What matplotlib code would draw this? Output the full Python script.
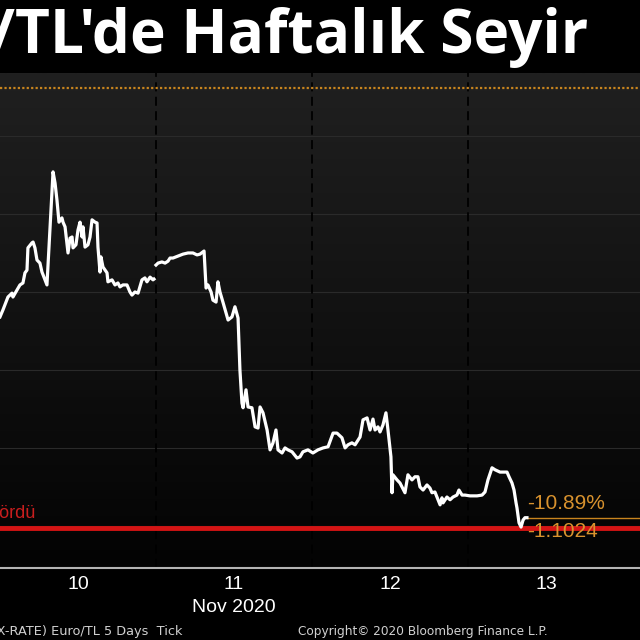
import numpy as np
import matplotlib
matplotlib.use("Agg")
import matplotlib.pyplot as plt

# EUR/TRY tick data, 10-13 Nov 2020 (x = day of month as float)
t_nov10 = [10.000, 10.019, 10.051, 10.077, 10.083, 10.109, 10.128, 10.147, 10.160, 10.173,
           10.179, 10.205, 10.212, 10.224, 10.237, 10.256, 10.269, 10.276, 10.301, 10.340,
           10.353, 10.365, 10.378, 10.397, 10.404, 10.417, 10.436, 10.449, 10.462, 10.468,
           10.487, 10.500, 10.513, 10.526, 10.532, 10.545, 10.564, 10.577, 10.590, 10.609,
           10.622, 10.628, 10.641, 10.647, 10.660, 10.686, 10.692, 10.718, 10.737, 10.756,
           10.769, 10.788, 10.814, 10.833, 10.846, 10.865, 10.885, 10.910, 10.929, 10.942,
           10.962, 10.981, 10.987]
p_nov10 = [9.536, 9.554, 9.587, 9.597, 9.587, 9.605, 9.618, 9.623, 9.649, 9.656,
           9.713, 9.726, 9.728, 9.713, 9.682, 9.674, 9.651, 9.644, 9.618, 9.908,
           9.879, 9.836, 9.779, 9.790, 9.779, 9.767, 9.700, 9.738, 9.741, 9.713,
           9.721, 9.759, 9.779, 9.741, 9.767, 9.715, 9.721, 9.741, 9.785, 9.779,
           9.777, 9.715, 9.651, 9.690, 9.664, 9.649, 9.626, 9.631, 9.618, 9.623,
           9.613, 9.618, 9.618, 9.600, 9.592, 9.600, 9.597, 9.631, 9.636, 9.626,
           9.638, 9.631, 9.633]

t_rest = [11.000, 11.013, 11.038, 11.058, 11.077, 11.090, 11.109, 11.141, 11.173, 11.205,
          11.237, 11.263, 11.282, 11.308, 11.321, 11.333, 11.353, 11.365, 11.385, 11.397,
          11.410, 11.429, 11.462, 11.487, 11.506, 11.526, 11.538, 11.551, 11.558, 11.577,
          11.590, 11.615, 11.635, 11.654, 11.667, 11.686, 11.712, 11.731, 11.750, 11.769,
          11.782, 11.808, 11.827, 11.846, 11.872, 11.904, 11.923, 11.942, 11.974, 12.006,
          12.038, 12.071, 12.103, 12.135, 12.160, 12.192, 12.212, 12.231, 12.256, 12.276,
          12.308, 12.327, 12.353, 12.372, 12.391, 12.404, 12.423, 12.436, 12.455, 12.474,
          12.487, 12.506, 12.513, 12.519, 12.545, 12.564, 12.596, 12.615, 12.641, 12.660,
          12.679, 12.692, 12.712, 12.737, 12.756, 12.769, 12.788, 12.808, 12.821, 12.833,
          12.840, 12.865, 12.885, 12.904, 12.929, 12.942, 12.962, 12.981, 13.013, 13.058,
          13.090, 13.109, 13.128, 13.154, 13.173, 13.205, 13.250, 13.263, 13.282, 13.295,
          13.308, 13.314, 13.327, 13.340, 13.353, 13.365, 13.378]
p_rest = [9.669, 9.674, 9.677, 9.674, 9.679, 9.687, 9.687, 9.692, 9.697, 9.700,
          9.700, 9.695, 9.697, 9.705, 9.610, 9.618, 9.600, 9.579, 9.574, 9.626,
          9.600, 9.574, 9.528, 9.536, 9.562, 9.533, 9.400, 9.315, 9.303, 9.349,
          9.305, 9.303, 9.254, 9.251, 9.305, 9.290, 9.246, 9.195, 9.213, 9.246,
          9.195, 9.187, 9.200, 9.195, 9.190, 9.174, 9.177, 9.190, 9.195, 9.187,
          9.195, 9.200, 9.203, 9.238, 9.238, 9.226, 9.200, 9.208, 9.213, 9.208,
          9.228, 9.272, 9.277, 9.246, 9.274, 9.246, 9.254, 9.241, 9.259, 9.290,
          9.246, 9.177, 9.085, 9.131, 9.118, 9.110, 9.085, 9.131, 9.118, 9.126,
          9.126, 9.100, 9.092, 9.105, 9.097, 9.085, 9.087, 9.067, 9.054, 9.072,
          9.059, 9.074, 9.067, 9.074, 9.079, 9.092, 9.079, 9.079, 9.077, 9.077,
          9.079, 9.087, 9.118, 9.149, 9.144, 9.138, 9.138, 9.126, 9.110, 9.092,
          9.059, 9.046, 9.008, 8.997, 9.015, 9.021, 9.021]

start_price = 10.1230
last_price = 9.0206
low_level = 8.995
chg_pct = "-10.89%"
chg_abs = "-1.1024"
day_ticks = [10, 11, 12, 13]

orange = "#d8922e"

fig = plt.figure(figsize=(6.4, 6.4), dpi=100, facecolor="black")
ax = fig.add_axes([0, 0.1125, 1, 0.7734])
ax.set_facecolor("black")

# gradient background
grad = np.linspace(0, 1, 256).reshape(-1, 1)
ax.imshow(grad, extent=[0, 1, 0, 1], transform=ax.transAxes, aspect="auto",
          cmap=matplotlib.colors.LinearSegmentedColormap.from_list("bg", ["#030303", "#202020"]),
          origin="lower", zorder=0)

ax.set_xlim(10.0, 10 + 640 / 156)
ax.set_ylim(8.892, 10.1615)

for lvl in np.arange(9.0, 10.01, 0.2):
    ax.axhline(lvl, color="#2a2a2a", lw=0.8, zorder=1)
for d in day_ticks[1:]:
    ax.axvline(d, color="black", lw=1.3, ls=(0, (5, 3)), zorder=1)

ax.axhline(start_price, color="#c8841e", lw=1.6, ls=(0, (1, 1)), zorder=2)
ax.axhline(low_level, color="#d41414", lw=3.5, zorder=3)
ax.plot([t_rest[-1], 14.2], [last_price, last_price], color="#c8841e", lw=1, zorder=2)

ax.plot(t_nov10, p_nov10, color="white", lw=2.3, zorder=4, solid_joinstyle="round")
ax.plot(t_rest, p_rest, color="white", lw=2.3, zorder=4, solid_joinstyle="round")

ax.text(t_rest[-1] + 0.003, last_price + 0.036, chg_pct, color=orange, fontsize=15,
        family="Liberation Sans", ha="left", va="center", zorder=5)
ax.text(t_rest[-1] + 0.003, last_price - 0.036, chg_abs, color=orange, fontsize=15,
        family="Liberation Sans", ha="left", va="center", zorder=5)
ax.text(10.228, low_level + 0.036, "gördü", color="#c81e1e", fontsize=13,
        family="Liberation Sans", ha="right", va="center", zorder=5)

for s in ["top", "left", "right"]:
    ax.spines[s].set_visible(False)
ax.spines["bottom"].set_color("#b4b4b4")
ax.spines["bottom"].set_linewidth(1.5)
ax.set_yticks([])
ax.set_xticks([d + 0.5 for d in day_ticks])
ax.set_xticklabels([str(d) for d in day_ticks], color="white", fontsize=14,
                   family="Liberation Sans")
ax.tick_params(axis="x", length=0, pad=6)

fig.text(234 / 640, 1 - 607 / 640, "Nov 2020", color="white", fontsize=14,
         family="Liberation Sans", ha="center", va="center")

fig.text(588 / 640, 1 - 37 / 640, "Euro/TL'de Haftalık Seyir", color="white",
         fontsize=43.5, fontweight="bold", family="Open Sans", ha="right", va="center")

fig.text(183 / 640, 1 - 632 / 640, "(EURTRY X-RATE) Euro/TL 5 Days  Tick", color="#d0d0d0",
         fontsize=9.3, family="DejaVu Sans", ha="right", va="center")
fig.text(298 / 640, 1 - 632 / 640, "Copyright© 2020 Bloomberg Finance L.P.", color="#d0d0d0",
         fontsize=8.7, family="DejaVu Sans", ha="left", va="center")

fig.savefig("out.png", dpi=100, facecolor="black")
